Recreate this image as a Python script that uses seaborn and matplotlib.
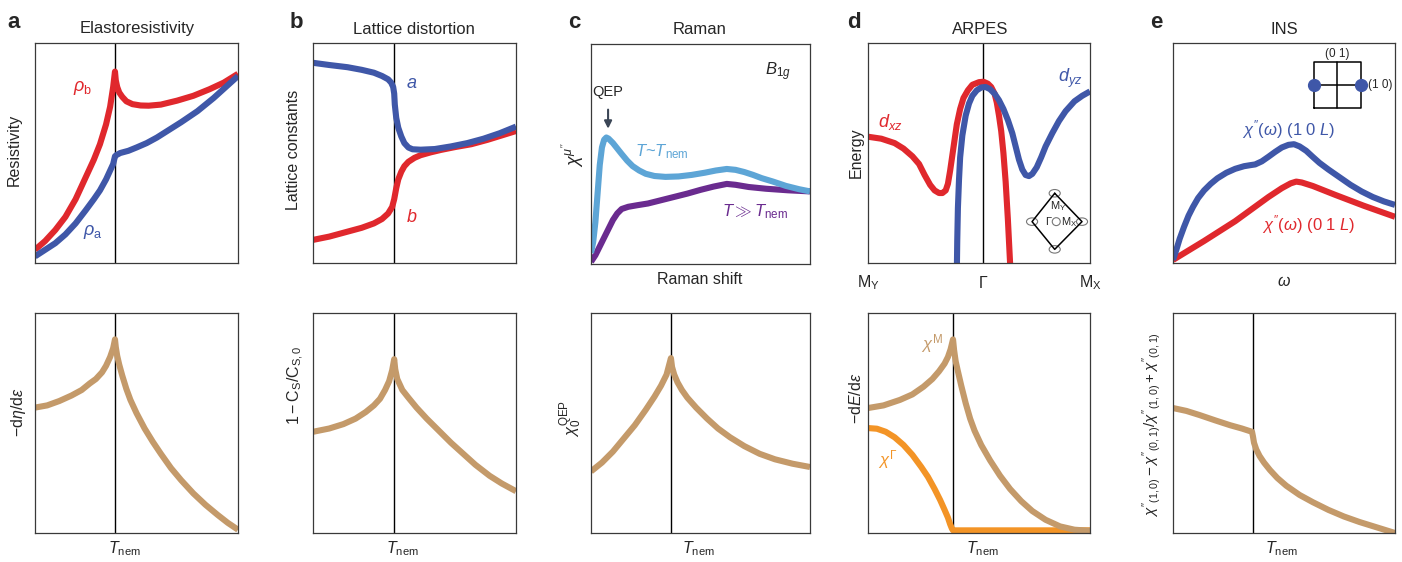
#Libraries
import numpy as np
import pandas as pd
import seaborn as sns
import matplotlib.pyplot as plt
from matplotlib.patches import Ellipse

#Data (axes run 0..1 in both directions)
a_rho_b_x = [0.0, 0.05, 0.10, 0.15, 0.20, 0.25, 0.29, 0.32, 0.35, 0.37, 0.385, 0.394,
             0.398, 0.405, 0.415, 0.43, 0.45, 0.48, 0.52, 0.56, 0.62, 0.70, 0.78, 0.86, 0.93, 1.0]
a_rho_b_y = [0.06, 0.10, 0.15, 0.21, 0.29, 0.39, 0.47, 0.54, 0.63, 0.71, 0.80, 0.87,
             0.83, 0.80, 0.775, 0.755, 0.735, 0.722, 0.716, 0.715, 0.72, 0.738, 0.76, 0.79, 0.82, 0.86]
a_rho_a_x = [0.0, 0.05, 0.10, 0.15, 0.20, 0.25, 0.29, 0.32, 0.35, 0.37, 0.385, 0.394,
             0.40, 0.42, 0.46, 0.50, 0.55, 0.60, 0.66, 0.72, 0.80, 0.88, 0.94, 1.0]
a_rho_a_y = [0.03, 0.06, 0.09, 0.13, 0.18, 0.24, 0.29, 0.33, 0.38, 0.42, 0.45, 0.485,
             0.49, 0.50, 0.51, 0.525, 0.545, 0.57, 0.605, 0.64, 0.69, 0.75, 0.80, 0.85]
a_bot_x = [0.0, 0.06, 0.12, 0.18, 0.23, 0.27, 0.30, 0.33, 0.35, 0.37, 0.385, 0.394,
           0.398, 0.405, 0.415, 0.43, 0.45, 0.47, 0.50, 0.54, 0.58, 0.62, 0.67, 0.72, 0.78, 0.84,
           0.90, 0.95, 1.0]
a_bot_y = [0.57, 0.58, 0.60, 0.625, 0.65, 0.68, 0.70, 0.73, 0.76, 0.80, 0.84, 0.88,
           0.845, 0.805, 0.765, 0.715, 0.655, 0.605, 0.545, 0.475, 0.415, 0.36, 0.295, 0.24, 0.18, 0.128,
           0.082, 0.046, 0.015]

b_a_x = [0.0, 0.08, 0.17, 0.24, 0.30, 0.34, 0.37, 0.385, 0.395, 0.40, 0.403, 0.41, 0.42, 0.435,
         0.45, 0.47, 0.49, 0.53, 0.60, 0.68, 0.76, 0.84, 0.92, 1.0]
b_a_y = [0.91, 0.90, 0.89, 0.878, 0.865, 0.85, 0.835, 0.82, 0.80, 0.77, 0.72, 0.66, 0.615, 0.575,
         0.545, 0.525, 0.517, 0.515, 0.518, 0.53, 0.545, 0.565, 0.59, 0.62]
b_b_x = [0.0, 0.08, 0.16, 0.24, 0.30, 0.34, 0.37, 0.39, 0.40, 0.41, 0.42, 0.435, 0.45, 0.47,
         0.50, 0.53, 0.58, 0.63, 0.70, 0.78, 0.86, 0.93, 1.0]
b_b_y = [0.105, 0.12, 0.14, 0.16, 0.18, 0.20, 0.225, 0.255, 0.29, 0.34, 0.38, 0.415, 0.44, 0.46,
         0.478, 0.49, 0.503, 0.514, 0.527, 0.54, 0.56, 0.58, 0.60]
b_bot_x = [0.0, 0.08, 0.15, 0.21, 0.26, 0.30, 0.33, 0.355, 0.375, 0.39, 0.40,
           0.405, 0.415, 0.44, 0.47, 0.51, 0.56, 0.62, 0.68, 0.74, 0.80, 0.87, 0.93, 1.0]
b_bot_y = [0.46, 0.475, 0.495, 0.52, 0.55, 0.58, 0.61, 0.65, 0.69, 0.74, 0.79,
           0.745, 0.70, 0.65, 0.615, 0.57, 0.52, 0.465, 0.41, 0.36, 0.31, 0.26, 0.225, 0.19]

c_near_x = [0.0, 0.01, 0.02, 0.03, 0.04, 0.05, 0.06, 0.07, 0.08, 0.10, 0.12, 0.14, 0.165, 0.19,
            0.22, 0.25, 0.29, 0.34, 0.40, 0.46, 0.52, 0.57, 0.62, 0.66, 0.70, 0.74, 0.78, 0.83,
            0.89, 0.95, 1.0]
c_near_y = [0.05, 0.10, 0.19, 0.32, 0.45, 0.53, 0.565, 0.575, 0.57, 0.55, 0.525, 0.50, 0.47, 0.445,
            0.425, 0.41, 0.40, 0.396, 0.398, 0.405, 0.415, 0.425, 0.432, 0.428, 0.418, 0.405, 0.39, 0.375,
            0.355, 0.34, 0.33]
c_far_x = [0.0, 0.02, 0.04, 0.06, 0.08, 0.10, 0.12, 0.14, 0.17, 0.21, 0.26, 0.32, 0.38, 0.44,
           0.50, 0.56, 0.62, 0.66, 0.72, 0.80, 0.90, 1.0]
c_far_y = [0.01, 0.04, 0.08, 0.12, 0.16, 0.20, 0.23, 0.25, 0.26, 0.267, 0.275, 0.29, 0.305, 0.32,
           0.337, 0.352, 0.364, 0.36, 0.35, 0.342, 0.335, 0.33]
c_bot_x = [0.0, 0.05, 0.10, 0.15, 0.20, 0.25, 0.29, 0.32, 0.345, 0.365,
           0.37, 0.38, 0.395, 0.415, 0.44, 0.48, 0.53, 0.58, 0.635, 0.70, 0.77, 0.84, 0.92, 1.0]
c_bot_y = [0.28, 0.32, 0.37, 0.43, 0.49, 0.56, 0.62, 0.67, 0.72, 0.795,
           0.755, 0.72, 0.685, 0.65, 0.615, 0.57, 0.52, 0.475, 0.435, 0.395, 0.36, 0.335, 0.315, 0.30]

d_xz_x = [0.0, 0.06, 0.12, 0.16, 0.20, 0.23, 0.255, 0.28, 0.30, 0.32, 0.335, 0.35, 0.36, 0.37,
          0.38, 0.39, 0.40, 0.415, 0.43, 0.45, 0.47, 0.50, 0.52, 0.54, 0.555, 0.57, 0.58, 0.59,
          0.60, 0.61, 0.62, 0.63, 0.64, 0.645]
d_xz_y = [0.574, 0.565, 0.545, 0.52, 0.485, 0.45, 0.40, 0.355, 0.33, 0.318, 0.318, 0.33, 0.36, 0.42,
          0.49, 0.56, 0.63, 0.70, 0.75, 0.785, 0.81, 0.822, 0.824, 0.815, 0.80, 0.77, 0.73, 0.67,
          0.60, 0.50, 0.37, 0.20, 0.0, -0.05]
d_yz_x = [0.40, 0.402, 0.405, 0.41, 0.415, 0.425, 0.44, 0.455, 0.47, 0.49, 0.51, 0.53, 0.55, 0.57,
          0.59, 0.61, 0.63, 0.65, 0.665, 0.68, 0.695, 0.71, 0.725, 0.74, 0.76, 0.78, 0.80, 0.83,
          0.86, 0.89, 0.93, 0.965, 1.0]
d_yz_y = [-0.05, 0.10, 0.25, 0.38, 0.48, 0.58, 0.67, 0.725, 0.76, 0.785, 0.798, 0.80, 0.79, 0.77,
          0.74, 0.70, 0.65, 0.59, 0.53, 0.47, 0.425, 0.40, 0.395, 0.405, 0.435, 0.48, 0.53, 0.59,
          0.645, 0.69, 0.735, 0.76, 0.78]
d_tick_pos = [0.0, 0.52, 1.0]
d_tick_labels = ['M$_\\mathrm{Y}$', 'Γ', 'M$_\\mathrm{X}$']
d_M_x = [0.0, 0.07, 0.144, 0.20, 0.25, 0.29, 0.32, 0.345, 0.36, 0.372, 0.383,
         0.388, 0.395, 0.405, 0.42, 0.44, 0.46, 0.48, 0.51, 0.55, 0.595, 0.64, 0.69, 0.74, 0.80,
         0.865, 0.93, 1.0]
d_M_y = [0.568, 0.58, 0.605, 0.63, 0.665, 0.70, 0.735, 0.77, 0.80, 0.835, 0.88,
         0.83, 0.78, 0.735, 0.67, 0.59, 0.52, 0.465, 0.40, 0.33, 0.26, 0.20, 0.145, 0.10, 0.06,
         0.03, 0.015, 0.01]
d_G_x = [0.0, 0.04, 0.08, 0.12, 0.16, 0.20, 0.24, 0.27, 0.30, 0.325, 0.345, 0.36, 0.37, 0.378,
         0.383, 0.39, 1.0]
d_G_y = [0.477, 0.474, 0.46, 0.435, 0.40, 0.355, 0.30, 0.255, 0.20, 0.15, 0.105, 0.07, 0.04, 0.02,
         0.012, 0.012, 0.012]

e_10_x = [0.0, 0.015, 0.03, 0.05, 0.07, 0.09, 0.113, 0.14, 0.17, 0.20, 0.24, 0.28, 0.32, 0.35,
          0.37, 0.40, 0.43, 0.46, 0.49, 0.52, 0.545, 0.57, 0.60, 0.63, 0.66, 0.70, 0.75, 0.80,
          0.85, 0.90, 0.95, 1.0]
e_10_y = [0.014, 0.06, 0.11, 0.165, 0.215, 0.255, 0.295, 0.33, 0.36, 0.385, 0.41, 0.428, 0.44, 0.445,
          0.448, 0.462, 0.483, 0.505, 0.525, 0.537, 0.54, 0.53, 0.51, 0.482, 0.455, 0.425, 0.39, 0.355,
          0.325, 0.30, 0.28, 0.264]
e_01_x = [0.0, 0.14, 0.28, 0.43, 0.49, 0.53, 0.555, 0.58, 0.63, 0.73, 0.86, 1.0]
e_01_y = [0.014, 0.10, 0.19, 0.30, 0.34, 0.362, 0.37, 0.366, 0.35, 0.31, 0.26, 0.21]
e_bot_x = [0.0, 0.06, 0.12, 0.19, 0.257, 0.31, 0.356, 0.36, 0.365, 0.375, 0.39, 0.41, 0.437,
           0.47, 0.51, 0.57, 0.63, 0.70, 0.77, 0.84, 0.92, 1.0]
e_bot_y = [0.568, 0.555, 0.536, 0.512, 0.49, 0.475, 0.46, 0.44, 0.41, 0.38, 0.35, 0.32, 0.286,
           0.25, 0.215, 0.173, 0.14, 0.105, 0.075, 0.05, 0.025, 0.0]

#Colours
RED = '#e0282d'
BLUE = '#3f57a8'
TAN = '#c49a6a'
LBLUE = '#5da5d6'
PURPLE = '#6a2b8f'
ORANGE = '#f39426'

W, H = 1402, 562
LW = 4.4

sns.set_style('white')
plt.rcParams['font.family'] = ['Liberation Sans', 'DejaVu Sans']
plt.rcParams['mathtext.fontset'] = 'custom'
plt.rcParams['mathtext.rm'] = 'Liberation Sans'
plt.rcParams['mathtext.it'] = 'Liberation Sans:italic'
plt.rcParams['mathtext.bf'] = 'Liberation Sans:bold'

fig = plt.figure(figsize=(W / 100, H / 100), dpi=100)


def fx(x):
    return x / W


def fy(y):
    return 1 - y / H


def make_ax(l, t, r, b):  #Axes from pixel box
    ax = fig.add_axes([fx(l), fy(b), (r - l) / W, (b - t) / H])
    ax.set_xlim(0, 1)
    ax.set_ylim(0, 1)
    ax.set_xticks([])
    ax.set_yticks([])
    for s in ax.spines.values():
        s.set_color('#3a3a3a')
        s.set_linewidth(0.9)
    return ax


def curve(ax, xs, ys, color):
    df = pd.DataFrame({'x': xs, 'y': ys})
    sns.lineplot(data=df, x='x', y='y', sort=False, estimator=None, color=color,
                 linewidth=LW, ax=ax, solid_capstyle='butt', solid_joinstyle='round')
    ax.set_xlabel('')
    ax.set_ylabel('')


def ftext(x, y, s, **kw):
    kw.setdefault('fontsize', 11.5)
    kw.setdefault('ha', 'center')
    kw.setdefault('va', 'center')
    fig.text(fx(x), fy(y), s, **kw)


boxes_top = [(35, 43, 238, 263), (313, 43, 516, 263), (591, 44, 810, 264),
             (868, 43, 1090, 263), (1173, 43, 1395, 263)]
boxes_bot = [(35, 313, 238, 533), (313, 313, 516, 533), (591, 313, 810, 533),
             (868, 313, 1090, 533), (1173, 313, 1395, 533)]
top = [make_ax(*b) for b in boxes_top]
bot = [make_ax(*b) for b in boxes_bot]

#Panel a
ax = top[0]
ax.axvline(0.394, color='black', lw=1)
curve(ax, a_rho_b_x, a_rho_b_y, RED)
curve(ax, a_rho_a_x, a_rho_a_y, BLUE)
ax.text(0.236, 0.795, '$\\rho_\\mathrm{b}$', color=RED, fontsize=13, ha='center', va='center')
ax.text(0.286, 0.14, '$\\rho_\\mathrm{a}$', color=BLUE, fontsize=13, ha='center', va='center')
ax = bot[0]
ax.axvline(0.394, color='black', lw=1)
curve(ax, a_bot_x, a_bot_y, TAN)

#Panel b
ax = top[1]
ax.axvline(0.40, color='black', lw=1)
curve(ax, b_b_x, b_b_y, RED)
curve(ax, b_a_x, b_a_y, BLUE)
ax.text(0.488, 0.818, '$a$', color=BLUE, fontsize=13, ha='center', va='center')
ax.text(0.488, 0.205, '$b$', color=RED, fontsize=13, ha='center', va='center')
ax = bot[1]
ax.axvline(0.40, color='black', lw=1)
curve(ax, b_bot_x, b_bot_y, TAN)

#Panel c
ax = top[2]
curve(ax, c_far_x, c_far_y, PURPLE)
curve(ax, c_near_x, c_near_y, LBLUE)
ax.annotate('QEP', xy=(0.078, 0.615), xytext=(0.078, 0.78), ha='center', va='center',
            fontsize=10.5, arrowprops=dict(arrowstyle='-|>', color='#3b4656', lw=1.5,
                                           shrinkA=5, shrinkB=0, mutation_scale=11))
ax.text(0.855, 0.873, '$B_{1g}$', fontsize=12, ha='center', va='center')
ax.text(0.2, 0.51, '$T$~$T_\\mathrm{nem}$', color=LBLUE, fontsize=12, ha='left', va='center')
ax.text(0.6, 0.24, '$T \\gg T_\\mathrm{nem}$', color=PURPLE, fontsize=12, ha='left', va='center')
ax = bot[2]
ax.axvline(0.365, color='black', lw=1)
curve(ax, c_bot_x, c_bot_y, TAN)

#Panel d
ax = top[3]
ax.axvline(0.52, color='black', lw=1)
curve(ax, d_xz_x, d_xz_y, RED)
curve(ax, d_yz_x, d_yz_y, BLUE)
ax.text(0.10, 0.64, '$d_{xz}$', color=RED, fontsize=13, ha='center', va='center')
ax.text(0.91, 0.84, '$d_{yz}$', color=BLUE, fontsize=13, ha='center', va='center')
dia_x = [0.841, 0.964, 0.841, 0.739, 0.841]
dia_y = [0.317, 0.188, 0.062, 0.188, 0.317]
ax.plot(dia_x, dia_y, color='black', lw=1.1)
for px_, py_ in zip(dia_x[:4], dia_y[:4]):
    ax.add_patch(Ellipse((px_, py_), 0.05, 0.034, fill=False, ec='#777777', lw=0.8))
ax.add_patch(Ellipse((0.848, 0.188), 0.036, 0.036, fill=False, ec='#777777', lw=0.8))
ax.text(0.855, 0.26, 'M$_\\mathrm{Y}$', fontsize=8, ha='center', va='center')
ax.text(0.825, 0.188, 'Γ', fontsize=8, ha='right', va='center')
ax.text(0.87, 0.188, 'M$_\\mathrm{X}$', fontsize=8, ha='left', va='center')
for p, lab in zip(d_tick_pos, d_tick_labels):
    ftext(868 + p * 222, 283, lab)
ax = bot[3]
ax.axvline(0.383, color='black', lw=1)
curve(ax, d_G_x, d_G_y, ORANGE)
curve(ax, d_M_x, d_M_y, TAN)
ax.text(0.29, 0.86, '$\\chi^\\mathrm{M}$', color=TAN, fontsize=12, ha='center', va='center')
ax.text(0.086, 0.336, '$\\chi^\\Gamma$', color=ORANGE, fontsize=12, ha='center', va='center')

#Panel e
ax = top[4]
curve(ax, e_01_x, e_01_y, RED)
curve(ax, e_10_x, e_10_y, BLUE)
ax.text(0.52, 0.605, "$\\chi''(\\omega)$ (1 0 $L$)", color=BLUE, fontsize=12, ha='center', va='center')
ax.text(0.61, 0.173, "$\\chi''(\\omega)$ (0 1 $L$)", color=RED, fontsize=12, ha='center', va='center')
sq_l, sq_r, sq_b, sq_t = 0.634, 0.845, 0.703, 0.915
ax.plot([sq_l, sq_r, sq_r, sq_l, sq_l], [sq_b, sq_b, sq_t, sq_t, sq_b], color='black', lw=1.1)
ax.plot([(sq_l + sq_r) / 2] * 2, [sq_b, sq_t], color='black', lw=1.1)
ax.plot([sq_l, sq_r], [(sq_b + sq_t) / 2] * 2, color='black', lw=1.1)
ax.plot([sq_l, sq_r], [(sq_b + sq_t) / 2] * 2, 'o', color=BLUE, ms=8.5)
ax.text((sq_l + sq_r) / 2, sq_t + 0.035, '(0 1)', fontsize=8.5, ha='center', va='center')
ax.text(sq_r + 0.035, (sq_b + sq_t) / 2, '(1 0)', fontsize=8.5, ha='left', va='center')
ax = bot[4]
ax.axvline(0.36, color='black', lw=1)
curve(ax, e_bot_x, e_bot_y, TAN)

#Titles, letters and axis texts
titles = [('Elastoresistivity', 137), ('Lattice distortion', 414), ('Raman', 700),
          ('ARPES', 980), ('INS', 1284)]
for t, x in titles:
    ftext(x, 29, t, fontsize=12)
for l, x in zip('abcde', [14, 296, 574, 854, 1156]):
    ftext(x, 23, l, fontsize=16, fontweight='bold')

ftext(14, 150, 'Resistivity', rotation=90)
ftext(294, 150, 'Lattice constants', rotation=90)
ftext(573, 155, "$\\chi^{\\mu''}$", rotation=90, fontsize=13)
ftext(856, 153, 'Energy', rotation=90)
ftext(700, 280, 'Raman shift')
ftext(1284, 282, '$\\omega$')

ftext(18, 412, '$-\\mathrm{d}\\eta/\\mathrm{d}\\varepsilon$', rotation=90)
ftext(296, 385, '$1 - \\mathrm{C_S}/\\mathrm{C_{S,0}}$', rotation=90)
ftext(571, 418, '$\\chi_0^\\mathrm{QEP}$', rotation=90, fontsize=12)
ftext(856, 398, '$-\\mathrm{d}E/\\mathrm{d}\\varepsilon$', rotation=90)
ftext(1152, 425, "$\\chi''_{(1,0)} - \\chi''_{(0,1)}/\\chi''_{(1,0)} + \\chi''_{(0,1)}$",
      rotation=90, fontsize=11)

for x in [124, 402, 698, 982, 1281]:
    ftext(x, 549, '$T_\\mathrm{nem}$')

fig.savefig('out.png', dpi=100)
